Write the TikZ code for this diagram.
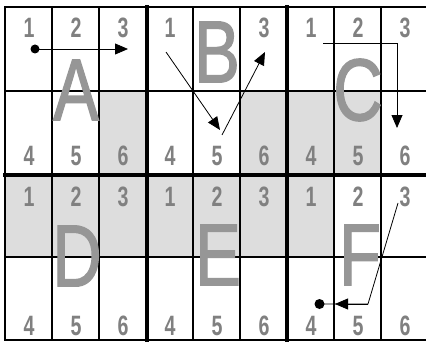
\documentclass[tikz,border=0pt]{standalone}
\usepackage{fontspec}
\setmainfont{Liberation Sans}
\newfontfamily\letterfont[FakeBold=1.6]{Liberation Sans}
\usetikzlibrary{arrows.meta}
\definecolor{shadegray}{RGB}{221,221,221}
\definecolor{digitgray}{RGB}{128,128,128}
\definecolor{lettergray}{RGB}{150,150,150}
\newcommand{\mydigit}[1]{\scalebox{0.7}[1]{\bfseries #1}}
\newcommand{\myletter}[1]{\scalebox{0.78}[1]{\letterfont #1}}
\begin{document}
\begin{tikzpicture}[x=1pt,y=-1pt,
  shadecell/.style={fill=shadegray},
  gridline/.style={line width=2pt,line cap=rect},
  thickgrid/.style={line width=3.2pt,line cap=rect},
  digit/.style={text=digitgray,inner sep=0pt,font=\fontsize{28}{28}\selectfont},
  bigletter/.style={text=lettergray,inner sep=0pt,font=\fontsize{88}{88}\selectfont},
  arrowline/.style={line width=0.8pt,-{Triangle[length=13pt,width=11pt]}},
  plainline/.style={line width=0.8pt}]
\useasboundingbox (0,0) rectangle (426,345);
\fill[white] (0,0) rectangle (426,345);
% shaded cells
\fill[shadecell] (99,91) rectangle (147,175);
\fill[shadecell] (240,91) rectangle (381,175);
\fill[shadecell] (5,175) rectangle (334,257);
% grid
\foreach \yy in {7,91,257,340} \draw[gridline] (5,\yy) -- (428,\yy);
\draw[thickgrid] (5,175) -- (428,175);
\foreach \xx in {5,52,99,193,240,334,381} \draw[gridline] (\xx,7) -- (\xx,340);
\foreach \xx in {147,287} \draw[thickgrid] (\xx,7) -- (\xx,340);
% big letters
\node[bigletter] (LA) at (76,90) {\myletter{A}};
\node[bigletter] (LB) at (217,52) {\myletter{B}};
\node[bigletter] (LC) at (358,90) {\myletter{C}};
\node[bigletter] (LD) at (77,256) {\myletter{D}};
\node[bigletter] (LE) at (218,255) {\myletter{E}};
\node[bigletter] (LF) at (360,255) {\myletter{F}};
% digits
\foreach \bx/\b in {0/a,282/c} {
  \node[digit] (\b1) at (29+\bx,28) {\mydigit{1}};
  \node[digit] (\b2) at (76+\bx,28) {\mydigit{2}};
  \node[digit] (\b3) at (123+\bx,28) {\mydigit{3}};
}
\node[digit] (b1) at (170,28) {\mydigit{1}};
\node[digit] (b3) at (264,28) {\mydigit{3}};
\foreach \bx/\b in {0/a,141/b,282/c} {
  \node[digit] (\b4) at (29+\bx,156) {\mydigit{4}};
  \node[digit] (\b5) at (76+\bx,156) {\mydigit{5}};
  \node[digit] (\b6) at (123+\bx,156) {\mydigit{6}};
}
\foreach \bx/\b in {0/d,141/e,282/f} {
  \node[digit] (\b1) at (29+\bx,197) {\mydigit{1}};
  \node[digit] (\b2) at (76+\bx,197) {\mydigit{2}};
  \node[digit] (\b3) at (123+\bx,197) {\mydigit{3}};
  \node[digit] (\b4) at (29+\bx,326) {\mydigit{4}};
  \node[digit] (\b5) at (76+\bx,326) {\mydigit{5}};
  \node[digit] (\b6) at (123+\bx,326) {\mydigit{6}};
}
% A arrow
\coordinate (as) at (35,49);
\coordinate (ae) at (128,49);
\fill (as) circle (4.5pt);
\draw[arrowline] (as) -- (ae);
% B arrows
\coordinate (bs) at (166,52);
\coordinate (bm) at (220,130);
\coordinate (bm2) at (222,135);
\coordinate (be) at (265,52);
\draw[arrowline] (bs) -- (bm);
\draw[arrowline] (bm2) -- (be);
% C arrow
\coordinate (cs) at (323,43);
\coordinate (cc) at (397,43);
\coordinate (ce) at (397,128);
\draw[arrowline] (cs) -- (cc) -- (ce);
% F arrow
\coordinate (fs) at (398,203);
\coordinate (fc) at (368,304);
\coordinate (ft) at (335,304);
\coordinate (fd) at (319.5,304);
\draw[plainline] (fs) -- (fc) -- (fd);
\draw[arrowline] (fc) -- (ft);
\fill (fd) circle (5pt);
\end{tikzpicture}
\end{document}
